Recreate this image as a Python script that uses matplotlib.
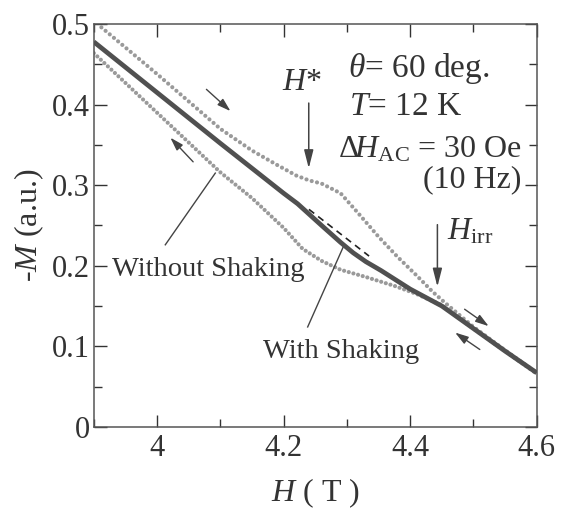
import numpy as np
import matplotlib
matplotlib.use('Agg')
import matplotlib.pyplot as plt
from matplotlib.ticker import MultipleLocator

# data: H (T), -M (a.u.)
h_shake = [3.9, 4.0, 4.1, 4.2, 4.222, 4.26, 4.29, 4.31, 4.33, 4.354, 4.40, 4.45, 4.5, 4.55, 4.6]
m_shake = [0.478, 0.415, 0.352, 0.290, 0.277, 0.250, 0.229, 0.216, 0.205, 0.194, 0.171, 0.150,
           0.122, 0.094, 0.067]

h_up = [3.912, 4.0, 4.05, 4.1, 4.15, 4.19, 4.22, 4.24, 4.26, 4.29, 4.317, 4.35, 4.38,
        4.41, 4.435, 4.455, 4.5, 4.55, 4.6]
m_up = [0.496, 0.438, 0.404, 0.370, 0.343, 0.325, 0.312, 0.306, 0.302, 0.290, 0.266,
        0.236, 0.211, 0.188, 0.168, 0.154, 0.124, 0.095, 0.067]

h_down = [3.9, 4.0, 4.05, 4.1, 4.15, 4.2, 4.23, 4.26, 4.29, 4.33, 4.375, 4.41, 4.45,
          4.5, 4.55, 4.6]
m_down = [0.464, 0.390, 0.353, 0.316, 0.284, 0.247, 0.221, 0.206, 0.195, 0.186, 0.175,
          0.165, 0.151, 0.122, 0.094, 0.066]

h_dash = [4.240, 4.335]
m_dash = [0.270, 0.212]

plt.rcParams['font.family'] = ['Liberation Serif', 'DejaVu Serif']
plt.rcParams['mathtext.fontset'] = 'custom'
plt.rcParams['mathtext.rm'] = 'Liberation Serif'
plt.rcParams['mathtext.it'] = 'Liberation Serif:italic'
plt.rcParams['font.size'] = 22

fig = plt.figure(figsize=(5.65, 5.13), dpi=100)
ax = fig.add_axes([0.166, 0.168, 0.784, 0.785])

dotcol = '#9a9a9a'
linecol = '#505050'
txtcol = '#333333'

# field sweeps without shaking drawn as round dots
ax.plot(h_up, m_up, color=dotcol, lw=3.0, linestyle=(0, (0.01, 1.3)),
        dash_capstyle='round', zorder=2)
ax.plot(h_down, m_down, color=dotcol, lw=3.0, linestyle=(0, (0.01, 1.15)),
        dash_capstyle='round', zorder=2)
ax.plot(h_shake, m_shake, color=linecol, lw=3.4, solid_capstyle='butt',
        solid_joinstyle='round', zorder=3)
ax.plot(h_dash, m_dash, color='#222222', lw=1.2, linestyle=(0, (4, 3)), zorder=4)

ax.set_xlim(3.9, 4.6)
ax.set_ylim(0, 0.5)
ax.xaxis.set_minor_locator(MultipleLocator(0.1))
ax.yaxis.set_minor_locator(MultipleLocator(0.05))
ax.set_xticks([4.0, 4.2, 4.4, 4.6])
ax.set_xticklabels(['4', '4.2', '4.4', '4.6'])
ax.set_yticks([0, 0.1, 0.2, 0.3, 0.4, 0.5])
ax.set_yticklabels(['0', '0.1', '0.2', '0.3', '0.4', '0.5'])
ax.tick_params(which='both', direction='in', top=True, right=True,
               colors=txtcol, width=1.0)
ax.tick_params(which='major', length=9, pad=5)
ax.tick_params(which='minor', length=6)
ax.tick_params(axis='y', pad=3)
for s in ax.spines.values():
    s.set_color('#555555')
    s.set_linewidth(1.1)

ax.set_xlabel(r'$H$ ( T )', color=txtcol, fontsize=23, labelpad=10)
ax.set_ylabel(r'-$M$ (a.u.)', color=txtcol, fontsize=23, labelpad=4)

big = dict(arrowstyle='-|>,head_length=1.1,head_width=0.28', color='#444444',
           lw=1.1, mutation_scale=10, shrinkA=0, shrinkB=0)
small = dict(arrowstyle='-|>,head_length=0.8,head_width=0.25', color='#444444',
             lw=1.0, mutation_scale=10, shrinkA=0, shrinkB=0)

# annotations
ax.text(4.229, 0.427, r'$H$*', ha='center', va='center', fontsize=23, color=txtcol)
ax.annotate('', xy=(4.2397, 0.321), xytext=(4.2397, 0.402), arrowprops=big)
ax.text(4.3016, 0.434, r'$\theta$= 60 deg.', ha='left', va='baseline',
        fontsize=24, color=txtcol)
ax.text(4.303, 0.387, r'$T$= 12 K', ha='left', va='baseline', fontsize=24, color=txtcol)
ax.text(4.286, 0.335, r'$\mathit{Δ}\!H_{\rm AC}$ = 30 Oe', ha='left', va='baseline',
        fontsize=23, color=txtcol)
ax.text(4.576, 0.298, '(10 Hz)', ha='right', va='baseline', fontsize=23, color=txtcol)

ax.text(4.458, 0.232, r'$H_{\rm irr}$', ha='left', va='baseline', fontsize=23, color=txtcol)
ax.annotate('', xy=(4.443, 0.174), xytext=(4.443, 0.251), arrowprops=big)

ax.text(3.929, 0.187, 'Without Shaking', ha='left', va='baseline', fontsize=20.5,
        color=txtcol)
ax.plot([4.092, 4.013], [0.315, 0.226], color='#444444', lw=1.0)
ax.text(4.168, 0.085, 'With Shaking', ha='left', va='baseline', fontsize=20.5,
        color=txtcol)
ax.plot([4.294, 4.238], [0.223, 0.124], color='#444444', lw=1.0)

ax.annotate('', xy=(4.116, 0.392), xytext=(4.078, 0.419), arrowprops=small)
ax.annotate('', xy=(4.021, 0.359), xytext=(4.057, 0.329), arrowprops=small)
ax.annotate('', xy=(4.524, 0.125), xytext=(4.486, 0.146), arrowprops=small)
ax.annotate('', xy=(4.471, 0.117), xytext=(4.510, 0.096), arrowprops=small)

fig.savefig('out.png', dpi=100)
